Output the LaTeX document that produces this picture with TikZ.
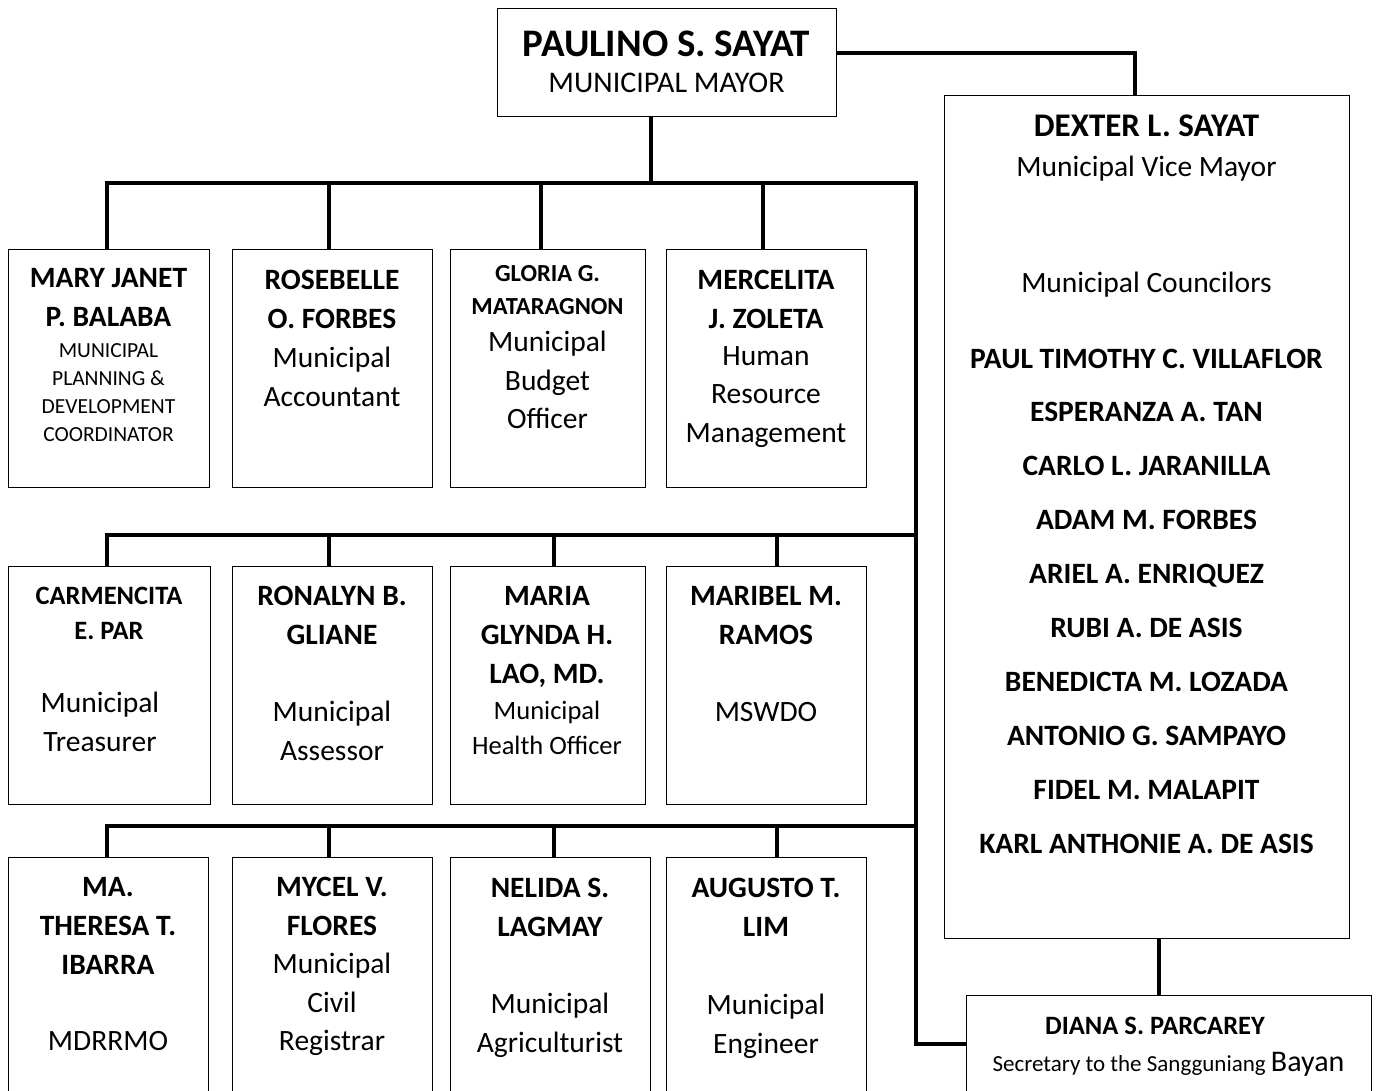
\documentclass[tikz,border=0pt]{standalone}
\usepackage{fontspec}
\setmainfont{Carlito}

\begin{document}
\begin{tikzpicture}[x=1pt, y=-1pt,
    box/.style={draw, line width=1.3pt, anchor=north west, inner sep=0pt},
    link/.style={line width=3.8pt},
    nm/.style={anchor=north, align=center, inner sep=0pt, font=\fontsize{29.5}{39}\selectfont\bfseries},
    ttl/.style={anchor=north, align=center, inner sep=0pt, font=\fontsize{29.5}{38.5}\selectfont}]
      \clip (0,0) rectangle (1376,1091);
      \fill[white] (0,0) rectangle (1376,1091);

      \node[box, minimum width=339, minimum height=108] (mayor) at (497,8) {};
      \node[box, minimum width=405, minimum height=843] (vice) at (944,95) {};
      \node[box, minimum width=405, minimum height=98] (diana) at (966,995) {};
      \foreach \n/\x/\w in {b1/8/201, b2/232/200, b3/450/195, b4/666/200}{
        \node[box, minimum width=\w, minimum height=238] (\n) at (\x,249) {};
      }
      \foreach \n/\x/\w in {b5/8/202, b6/232/200, b7/450/195, b8/666/200}{
        \node[box, minimum width=\w, minimum height=238] (\n) at (\x,566) {};
      }
      \foreach \n/\x/\w in {b9/8/200, b10/232/200, b11/450/200, b12/666/200}{
        \node[box, minimum width=\w, minimum height=260] (\n) at (\x,857) {};
      }

      \coordinate (j1) at (916,183);
      \coordinate (j2) at (916,535);
      \coordinate (j3) at (916,826);
      \draw[link] ([xshift=-16.5pt]mayor.south) |- (j1) |- ([yshift=1pt]diana.west);
      \draw[link] ([yshift=10pt]mayor.east) -| ([xshift=-12.5pt]vice.north);
      \draw[link] ([xshift=11.5pt]vice.south) -- ([xshift=11.5pt]vice.south |- diana.north);
      \foreach \n/\s in {b1/-2.5, b2/-4, b3/-7.5, b4/-4}{
        \draw[link] ([xshift=\s pt]\n.north) |- (j1);
      }
      \foreach \n/\s in {b5/-3, b6/-4, b7/6, b8/10}{
        \draw[link] ([xshift=\s pt]\n.north) |- (j2);
      }
      \foreach \n/\s in {b9/-2, b10/-4, b11/3, b12/10}{
        \draw[link] ([xshift=\s pt]\n.north) |- (j3);
      }

      \node[nm, font=\fontsize{39}{42}\selectfont\bfseries] at (666.5,31) {PAULINO S. SAYAT};
      \node[ttl, font=\fontsize{30}{36}\selectfont] at (666.5,73) {MUNICIPAL MAYOR};

      \node[nm] at (108.5,268.5) {MARY JANET\\P. BALABA};
      \node[ttl, font=\fontsize{21.5}{28}\selectfont] at (108.5,343) {MUNICIPAL\\PLANNING \&\\DEVELOPMENT\\COORDINATOR};
      \node[nm] at (332,269.5) {ROSEBELLE\\O. FORBES};
      \node[ttl] at (332,347) {Municipal\\Accountant};
      \node[nm, font=\fontsize{24.5}{33}\selectfont\bfseries] at (547.5,265) {GLORIA G.\\MATARAGNON};
      \node[ttl] at (547.5,331) {Municipal\\Budget\\Officer};
      \node[nm] at (766,269.5) {MERCELITA\\J. ZOLETA};
      \node[ttl] at (766,346) {Human\\Resource\\Management};

      \node[nm, font=\fontsize{26.5}{35}\selectfont\bfseries] at (109,586.5) {CARMENCITA\\E. PAR};
      \node[ttl] at (100,692) {Municipal\\Treasurer};
      \node[nm] at (332,585.5) {RONALYN B.\\GLIANE};
      \node[ttl] at (332,701) {Municipal\\Assessor};
      \node[nm] at (547,586.5) {MARIA\\GLYNDA H.\\LAO, MD.};
      \node[ttl, font=\fontsize{26.5}{35}\selectfont] at (547,701) {Municipal\\Health Officer};
      \node[nm] at (766,586.5) {MARIBEL M.\\RAMOS};
      \node[ttl] at (766,702) {MSWDO};

      \node[nm] at (108,877.5) {MA.\\THERESA T.\\IBARRA};
      \node[ttl] at (108,1031) {MDRRMO};
      \node[nm] at (332,876.5) {MYCEL V.\\FLORES};
      \node[ttl] at (332,953) {Municipal\\Civil\\Registrar};
      \node[nm] at (550,877.5) {NELIDA S.\\LAGMAY};
      \node[ttl] at (550,993) {Municipal\\Agriculturist};
      \node[nm] at (766,877.5) {AUGUSTO T.\\LIM};
      \node[ttl] at (766,994) {Municipal\\Engineer};

      \node[nm, font=\fontsize{33}{38}\selectfont\bfseries] at (1146.5,115) {DEXTER L. SAYAT};
      \node[ttl] at (1146.5,156) {Municipal Vice Mayor};
      \node[ttl] at (1146.5,272) {Municipal Councilors};
      \foreach \who [count=\i from 0] in {PAUL TIMOTHY C. VILLAFLOR, ESPERANZA A. TAN, CARLO L. JARANILLA, ADAM M. FORBES, ARIEL A. ENRIQUEZ, RUBI A. DE ASIS, BENEDICTA M. LOZADA, ANTONIO G. SAMPAYO, FIDEL M. MALAPIT, KARL ANTHONIE A. DE ASIS}{
        \node[nm] at (1146.5,348.5+53.9*\i) {\who};
      }

      \node[nm, font=\fontsize{26.5}{32}\selectfont\bfseries] at (1155,1016.5) {DIANA S. PARCAREY};
      \node[ttl, font=\fontsize{23}{26}\selectfont] at (1168.5,1052) {Secretary to the Sangguniang {\fontsize{30}{32}\selectfont Bayan}};
    \end{tikzpicture}
\end{document}
